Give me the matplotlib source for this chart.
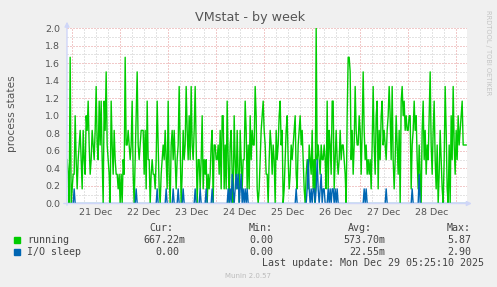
import datetime as dt
import matplotlib
matplotlib.use("Agg")
import matplotlib.pyplot as plt
import numpy as np

# 30-minute averages, in sixths of a process (6 five-minute samples per point)
RUN_A = [3, 2, 0, 10, 0, 1, 2, 2, 6, 3, 1, 3, 4, 5, 3, 1, 5, 3, 2, 6,
         5, 7, 4, 2, 3, 5, 4, 3, 5, 8, 4, 3, 7, 4, 7, 3, 0, 7, 5, 9,
         4, 3, 2, 0, 7, 4, 2, 5, 3, 2]
RUN_B = [2, 1, 2, 0, 2, 0, 3, 2, 10, 4, 4, 5, 4, 3, 4, 7, 2, 0, 3, 6,
         9, 4, 3, 4, 5, 5, 5, 2, 5, 1, 7, 3, 3, 0, 2, 3, 2, 2, 1, 3,
         7, 4, 1, 0, 2, 3, 4, 3, 5, 3]
RUN_C = [1, 7, 2, 0, 4, 5, 3, 5, 3, 1, 3, 4, 8, 4, 0, 2, 5, 3, 4, 8,
         5, 3, 6, 3, 8, 4, 3, 5, 8, 4, 0, 3, 3, 1, 3, 6, 1, 3, 2, 3,
         0, 2, 1, 2, 4, 5, 0, 4, 4, 3]
RUN_D = [3, 4, 2, 5, 1, 6, 6, 1, 4, 1, 7, 3, 0, 4, 5, 2, 0, 6, 3, 1,
         5, 2, 0, 5, 3, 1, 3, 3, 7, 5, 1, 4, 1, 6, 3, 5, 4, 4, 8, 6,
         1, 0, 1, 3, 5, 6, 7, 5, 4, 2]
RUN_E = [2, 0, 3, 5, 4, 2, 4, 3, 0, 5, 3, 4, 6, 7, 4, 5, 0, 1, 3, 5,
         6, 3, 1, 2, 4, 3, 4, 5, 6, 2, 1, 4, 5, 6, 4, 5, 3, 1, 0, 2,
         3, 1, 4, 3, 2, 5, 1, 3, 0, 12]
RUN_F = [3, 4, 3, 2, 4, 3, 3, 4, 3, 1, 7, 1, 5, 4, 2, 7, 7, 1, 3, 5,
         3, 2, 3, 5, 3, 4, 4, 3, 2, 0, 6, 10, 10, 9, 3, 5, 2, 4, 8, 5,
         4, 4, 6, 5, 2, 5, 9, 5, 3, 4]
RUN_G = [2, 3, 2, 3, 1, 4, 8, 4, 2, 6, 7, 1, 5, 3, 6, 7, 4, 5, 4, 3,
         5, 6, 8, 6, 3, 8, 3, 1, 3, 6, 4, 2, 5, 0, 7, 8, 6, 7, 5, 6,
         5, 5, 6, 6, 1, 4, 5, 7, 5, 6]
RUN_H = [3, 1, 4, 2, 0, 5, 7, 3, 5, 2, 4, 3, 6, 9, 4, 2, 5, 7, 3, 1,
         4, 0, 2, 5, 3, 1, 0, 3, 8, 5, 1, 0, 4, 0, 6, 3, 8, 4, 2, 5,
         3, 6, 4, 5, 6, 7, 4, 4, 4, 4]

IO_A = [0, 0, 0, 0, 0, 0, 0, 1, 0, 0] + [0] * 40
IO_B = [0] * 19 + [1] + [0] * 20 + [1] + [0] * 8 + [1]
IO_C = [0, 0, 0, 0, 0, 0, 1, 0, 0, 0, 0, 1, 0, 0, 0, 0, 1, 0, 0, 0,
        0, 0, 0, 0, 0, 0, 0, 0, 1, 0, 0, 0, 0, 1, 0, 0, 0, 0, 0, 1,
        0, 0, 0, 0, 0, 1, 0, 0, 0, 0]
IO_D = [0, 0, 0, 0, 0, 0, 0, 0, 0, 0, 0, 1, 0, 1, 0, 2, 1, 0, 1, 2,
        1, 2, 0, 1, 2, 0, 1, 0, 1, 0, 1, 0, 0, 0, 0, 0, 0, 0, 0, 0,
        0, 0, 0, 0, 0, 0, 0, 0, 0, 0]
IO_E = [0] * 29 + [1] + [0] * 10 + [1, 3, 1, 0, 1, 0, 1, 1, 0, 1]
IO_F = [3, 1, 0, 1, 2, 0, 1, 1, 0, 0, 0, 1, 0, 1, 0, 1, 1, 0, 1, 0,
        1, 0, 0, 0, 0, 0, 0, 0, 0, 0, 0, 0, 0, 0, 0, 0, 0, 0, 0, 0,
        0, 0, 0, 0, 0, 0, 0, 1, 0, 1]
IO_G = [0] * 19 + [1] + [0] * 25 + [1] + [0] * 4
IO_H = [0, 0, 2] + [0] * 47

running = np.array(RUN_A + RUN_B + RUN_C + RUN_D + RUN_E + RUN_F + RUN_G + RUN_H) / 6.0
io_sleep = np.array(IO_A + IO_B + IO_C + IO_D + IO_E + IO_F + IO_G + IO_H) / 6.0

START = dt.datetime(2025, 12, 20, 21, 25)
END = dt.datetime(2025, 12, 29, 5, 25)
FIRST = dt.datetime(2025, 12, 20, 21, 30)
times = [FIRST + dt.timedelta(minutes=30 * i) for i in range(len(running))]

DAY_LABELS = ["21 Dec", "22 Dec", "23 Dec", "24 Dec", "25 Dec", "26 Dec", "27 Dec", "28 Dec"]
LEGEND_ROWS = [
    ("running", "#00CC00", "667.22m", "0.00", "573.70m", "5.87"),
    ("I/O sleep", "#0066B3", "0.00", "0.00", "22.55m", "2.90"),
]

W, H = 497, 287
fig = plt.figure(figsize=(W / 100, H / 100), dpi=100)
fig.patch.set_facecolor("#F0F0F0")
ax = fig.add_axes([67 / W, (H - 203.5) / H, 400 / W, 175.5 / H])
ax.set_facecolor("white")
for s in ax.spines.values():
    s.set_visible(False)

dots = dict(linewidth=0.72, dashes=(1, 2), zorder=1)
for k in range(1, 20, 2):
    ax.axhline(k / 10, color="#C8C8C8", **dots)
for k in range(1, 11):
    ax.axhline(k / 5, color="#E49494", **dots)

midnights = [dt.datetime(2025, 12, 21) + dt.timedelta(days=d) for d in range(9)]
for m in midnights:
    for h in (6, 12, 18):
        t = m + dt.timedelta(hours=h)
        if t < END:
            ax.axvline(t, color="#C8C8C8", **dots)
    ax.axvline(m, color="#E49494", **dots)

ax.plot(times, running, color="#00CC00", lw=1.0, zorder=3)
ax.plot(times, io_sleep, color="#0066B3", lw=1.0, zorder=4)

ax.set_xlim(START, END)
ax.set_ylim(0, 2.0)
ax.set_yticks(np.arange(0, 2.01, 0.2))
ax.set_yticklabels([f"{v:.1f}" for v in np.arange(0, 2.01, 0.2)])
noons = [m + dt.timedelta(hours=12) for m in midnights[:8]]
ax.set_xticks(noons)
ax.set_xticklabels(DAY_LABELS)
ax.tick_params(axis="both", length=0, labelsize=6.8, labelcolor="#555555")
ax.tick_params(axis="y", pad=5)
ax.tick_params(axis="x", pad=3)

arrow = dict(arrowstyle="-|>", color="#CFD6F8", lw=1.0, mutation_scale=7, shrinkA=0, shrinkB=0)
ax.annotate("", xy=(1.012, 0), xytext=(-0.008, 0), xycoords="axes fraction",
            arrowprops=arrow, annotation_clip=False, zorder=5)
ax.annotate("", xy=(0, 1.036), xytext=(0, -0.01), xycoords="axes fraction",
            arrowprops=arrow, annotation_clip=False, zorder=5)

def fy(y):
    return 1 - y / H

fig.text(250 / W, fy(18), "VMstat - by week", ha="center", va="center",
         fontsize=9.2, color="#555555")
fig.text(12 / W, fy(114), "process states", ha="center", va="center",
         rotation=90, fontsize=7.6, color="#555555")
fig.text(488 / W, fy(53), "RRDTOOL / TOBI OETIKER", ha="center", va="center",
         rotation=-90, fontsize=4.8, color="#C4C4C4")

mono = dict(family="DejaVu Sans Mono", fontsize=7.2, color="#444444", va="center")
for x, lab in [(149, "Cur:"), (249, "Min:"), (348, "Avg:"), (447, "Max:")]:
    fig.text(x / W, fy(228), lab, **mono)

for row, (name, color, cur, mn, avg, mx) in enumerate(LEGEND_ROWS):
    y = 240 + 12 * row
    fig.patches.append(plt.Rectangle((14 / W, fy(y + 3)), 6 / W, 6 / H,
                                     transform=fig.transFigure, color=color))
    fig.text(27 / W, fy(y), name, **mono)
    # right edges of the number columns (one trailing char for the unit)
    for right, val in [(185, cur), (279, mn), (385, avg), (477, mx)]:
        if not val.endswith("m"):
            right -= 6
        fig.text(right / W, fy(y), val, ha="right", **mono)

fig.text(262 / W, fy(263), "Last update: Mon Dec 29 05:25:10 2025", **mono)
fig.text(248 / W, fy(276), "Munin 2.0.57", ha="center", va="center",
         fontsize=5.0, color="#BBBBBB")

fig.savefig("out.png", dpi=100, facecolor=fig.get_facecolor())
